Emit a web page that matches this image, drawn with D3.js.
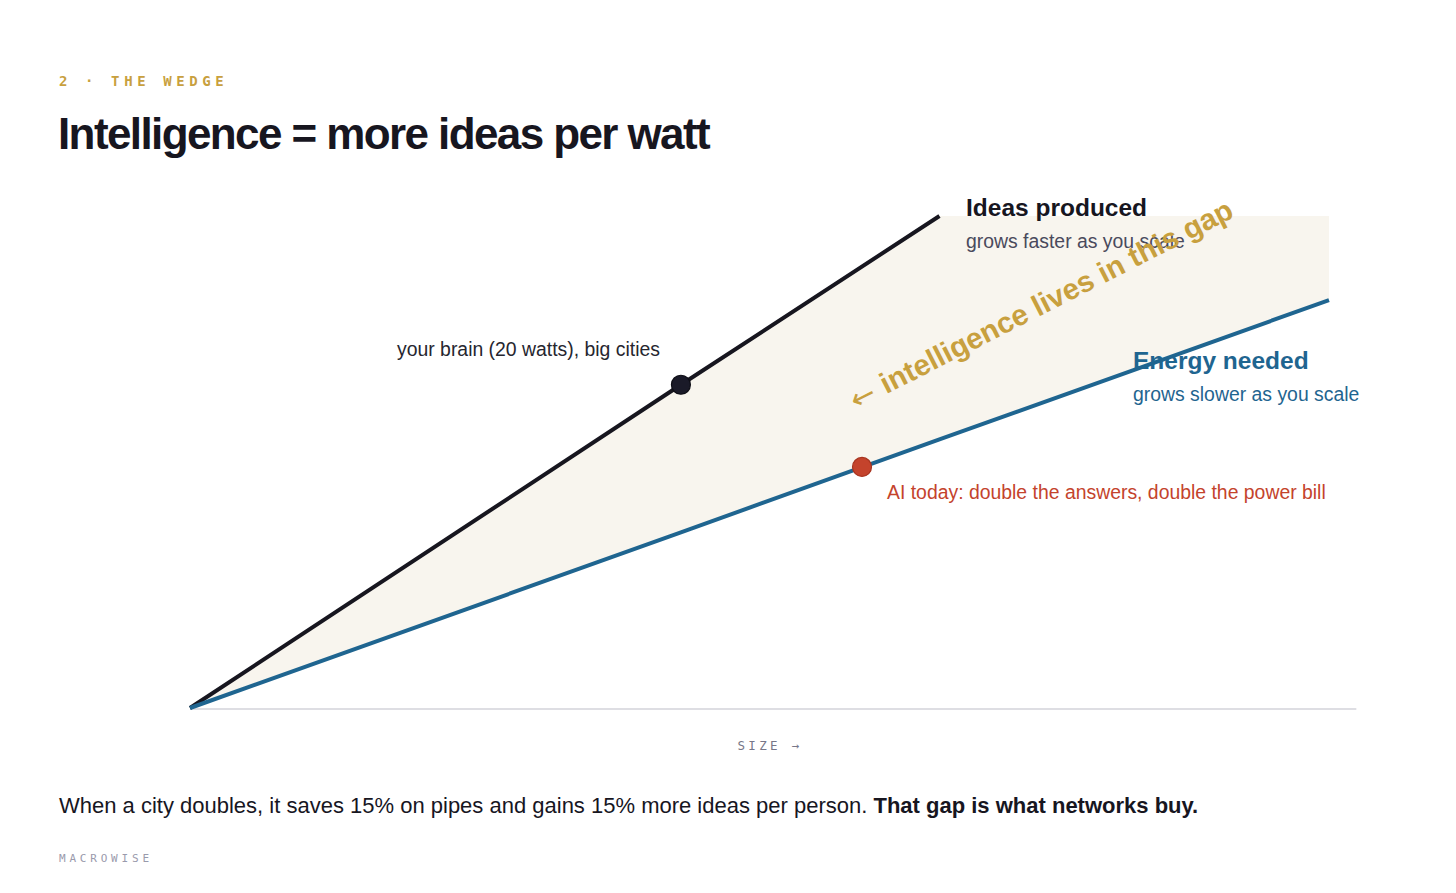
<!DOCTYPE html>
<html>
<head>
<meta charset="utf-8">
<script src="https://cdn.jsdelivr.net/npm/d3@7"></script>
<style>
  html, body { margin: 0; padding: 0; background: #fff; }
  svg { display: block; }
</style>
</head>
<body>
<svg id="chart" width="1456" height="893"></svg>
<script>
// The wedge: ideas vs energy, both growing with size
const sizes  = [0, 0.431, 0.658, 1.0];
const ideas  = [0, 0.657, 1.0, null];   // runs off the top of the plot after 0.658
const energy = [0, 0.357, 0.546, 0.829];
const gapTop = [0, 0.657, 1.0, 1.0];    // upper edge of the shaded gap

const markers = [
  { size: 0.431, value: 0.657, series: "ideas" },
  { size: 0.590, value: 0.490, series: "energy" }
];

const kicker   = "2 · THE WEDGE";
const title    = "Intelligence = more ideas per watt";
const xLabel   = "SIZE →";
const footNote = ["When a city doubles, it saves 15% on pipes and gains 15% more ideas per person. ", "That gap is what networks buy."];
const brand    = "MACROWISE";

const SANS = "'Liberation Sans', Arial, Helvetica, sans-serif";
const MONO = "'DejaVu Sans Mono', 'Liberation Mono', monospace";
const C = {
  ink: "#17161f", blue: "#1f6590", red: "#c4432c", gold: "#c8a03e",
  fill: "#f8f5ee", grey: "#777789", axis: "#d3d3da"
};

const svg = d3.select("#chart");
const x = d3.scaleLinear().domain([0, 1]).range([190, 1329]);
const y = d3.scaleLinear().domain([0, 1]).range([708, 216]);
const axisEnd = 1.024;

// header
svg.append("text").attr("x", 59).attr("y", 86)
  .attr("font-family", MONO).attr("font-size", 14).attr("font-weight", 700)
  .attr("letter-spacing", 4.6).attr("fill", C.gold).text(kicker);
svg.append("text").attr("x", 58).attr("y", 149)
  .attr("font-family", SANS).attr("font-size", 44).attr("font-weight", 700)
  .attr("letter-spacing", -1.6).attr("fill", C.ink).text(title);

// shaded gap
const rows = sizes.map((s, i) => ({ s, ideas: ideas[i], energy: energy[i], top: gapTop[i] }));
svg.append("path").datum(rows)
  .attr("fill", C.fill)
  .attr("d", d3.area().x(d => x(d.s)).y0(d => y(d.energy)).y1(d => y(d.top)));

// baseline axis
svg.append("line")
  .attr("x1", x(0)).attr("x2", x(axisEnd)).attr("y1", y(0) + 1).attr("y2", y(0) + 1)
  .attr("stroke", C.axis).attr("stroke-width", 1.5);

// lines
const line = d3.line().defined(d => d.v != null).x(d => x(d.s)).y(d => y(d.v));
svg.append("path").datum(rows.map(r => ({ s: r.s, v: r.ideas })))
  .attr("fill", "none").attr("stroke", C.ink).attr("stroke-width", 4).attr("d", line);
svg.append("path").datum(rows.map(r => ({ s: r.s, v: r.energy })))
  .attr("fill", "none").attr("stroke", C.blue).attr("stroke-width", 4).attr("d", line);

// markers
svg.selectAll("circle.mk").data(markers).join("circle")
  .attr("class", "mk")
  .attr("cx", d => x(d.size)).attr("cy", d => y(d.value)).attr("r", 9.5)
  .attr("fill", d => d.series === "ideas" ? "#1a1a28" : C.red)
  .attr("stroke", d => d.series === "ideas" ? "#0e0e16" : "#a8341f")
  .attr("stroke-width", 1.2);

// series labels
const lab = (tx, ty, txt, size, weight, color) =>
  svg.append("text").attr("x", tx).attr("y", ty).attr("font-family", SANS)
    .attr("font-size", size).attr("font-weight", weight).attr("fill", color).text(txt);

lab(966, 216, "Ideas produced", 24.5, 700, C.ink);
lab(966, 248, "grows faster as you scale", 19.4, 400, "#4a4a5c");
lab(1133, 369, "Energy needed", 24.5, 700, C.blue);
lab(1133, 401, "grows slower as you scale", 19.4, 400, C.blue);
lab(397, 356, "your brain (20 watts), big cities", 19.4, 400, "#26262f");
lab(887, 499, "AI today: double the answers, double the power bill", 19.4, 400, C.red);

// gap annotation
const gap = svg.append("text")
  .attr("transform", "translate(1042,306) rotate(-27)")
  .attr("text-anchor", "middle").attr("dominant-baseline", "middle")
  .attr("font-family", SANS).attr("font-size", 29.5).attr("font-weight", 700)
  .attr("fill", C.gold);
gap.append("tspan").attr("font-family", "'DejaVu Sans', sans-serif").attr("font-weight", 400).text("← ");
gap.append("tspan").text("intelligence lives in this gap");

// x label
svg.append("text").attr("x", 770).attr("y", 750).attr("text-anchor", "middle")
  .attr("font-family", MONO).attr("font-size", 12.5).attr("letter-spacing", 3.3)
  .attr("fill", C.grey).text(xLabel);

// footnote
const fn = svg.append("text").attr("x", 59).attr("y", 813)
  .attr("font-family", SANS).attr("font-size", 22).attr("fill", C.ink);
fn.append("tspan").text(footNote[0]);
fn.append("tspan").attr("font-weight", 700).text(footNote[1]);

svg.append("text").attr("x", 59).attr("y", 862)
  .attr("font-family", MONO).attr("font-size", 11).attr("letter-spacing", 3.8)
  .attr("fill", "#9a9aac").text(brand);
</script>
</body>
</html>
